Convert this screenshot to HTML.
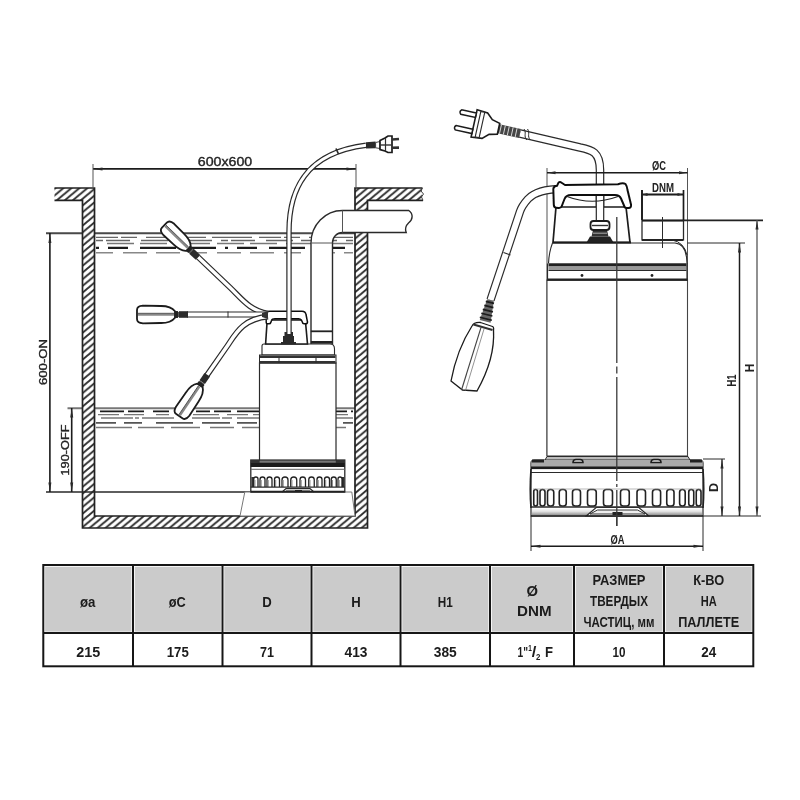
<!DOCTYPE html>
<html><head><meta charset="utf-8"><title>Pump dimensions</title>
<style>
html,body{margin:0;padding:0;background:#fff;}
body{width:800px;height:800px;overflow:hidden;font-family:"Liberation Sans",sans-serif;}
svg{display:block;font-family:"Liberation Sans",sans-serif;}
</style></head><body>
<svg width="800" height="800" viewBox="0 0 800 800">
<defs>
<pattern id="hatch" width="8" height="6.7" patternUnits="userSpaceOnUse">
<rect width="8" height="6.7" fill="#fff"/>
<path d="M-8,13.4 L16,-6.7 M-8,6.7 L8,-6.7 M0,13.4 L16,0" stroke="#333" stroke-width="2.0"/>
</pattern>
<linearGradient id="gbase" x1="0" x2="0" y1="0" y2="1"><stop offset="0" stop-color="#fff"/><stop offset="0.45" stop-color="#e4e4e4"/><stop offset="1" stop-color="#8a8a8a"/></linearGradient>
<filter id="soft" x="0" y="0" width="800" height="800" filterUnits="userSpaceOnUse"><feGaussianBlur stdDeviation="0.45"/></filter>
</defs>
<rect width="800" height="800" fill="#fff"/>
<g filter="url(#soft)">
<g id="left">
<line x1="46" y1="233.3" x2="355" y2="233.3" stroke="#484848" stroke-width="2.0" />
<line x1="96" y1="237.3" x2="353" y2="237.3" stroke="#666" stroke-width="1.3" stroke-dasharray="22 3 16 9 60 6 40 7" stroke-dashoffset="0"/>
<line x1="96" y1="240.5" x2="353" y2="240.5" stroke="#666" stroke-width="1.6" stroke-dasharray="7 3 24 11 27 8 36 9" stroke-dashoffset="0"/>
<line x1="107" y1="243.6" x2="353" y2="243.6" stroke="#777" stroke-width="1.5" stroke-dasharray="27 6 27 9 34 7" stroke-dashoffset="0"/>
<line x1="96" y1="247.9" x2="353" y2="247.9" stroke="#1a1a1a" stroke-width="2.2" stroke-dasharray="3 9 20 12 36 10 30 9" stroke-dashoffset="0"/>
<line x1="96" y1="252.7" x2="353" y2="252.7" stroke="#888" stroke-width="1.5" stroke-dasharray="17 10 24 9 24 10" stroke-dashoffset="0"/>
<line x1="67.5" y1="408.2" x2="355" y2="408.2" stroke="#777" stroke-width="2.0" />
<line x1="100" y1="411.4" x2="353" y2="411.4" stroke="#1a1a1a" stroke-width="1.6" stroke-dasharray="24 4 16 9 16 27 14 4 17 6" stroke-dashoffset="0"/>
<line x1="98" y1="414.6" x2="353" y2="414.6" stroke="#777" stroke-width="1.4" stroke-dasharray="21 5 20 12 13 24 26 8" stroke-dashoffset="0"/>
<line x1="101" y1="418" x2="353" y2="418" stroke="#777" stroke-width="1.5" stroke-dasharray="32 2 4 3 32 18 28 2 10 5" stroke-dashoffset="0"/>
<line x1="96" y1="422.8" x2="353" y2="422.8" stroke="#555" stroke-width="1.7" stroke-dasharray="20 8 18 14 37 9 28 7" stroke-dashoffset="0"/>
<line x1="96" y1="427.5" x2="353" y2="427.5" stroke="#777" stroke-width="1.7" stroke-dasharray="36 6 26 7 29 10 24 8" stroke-dashoffset="0"/>
<path d="M54.5,188 L94.5,188 L94.5,516 L355,516 L355,188 L422,188 L422,200 L367.5,200 L367.5,528 L82.5,528 L82.5,200 L54.5,200 Z" stroke="#222" stroke-width="0" fill="url(#hatch)" />
<path d="M54.5,188 L94.5,188 L94.5,516 L355,516 L355,188 L422.5,188" stroke="#222" stroke-width="1.7" fill="none" />
<path d="M423,200.3 L367.5,200.3 L367.5,528 L82.5,528 L82.5,200.3 L54.5,200.3" stroke="#222" stroke-width="1.7" fill="none" />
<path d="M422.5,188 L421,191 L423.5,194 L421.5,197 L423,200.3" stroke="#444" stroke-width="1.0" fill="none" />
<line x1="46" y1="492" x2="250" y2="492" stroke="#2a2a2a" stroke-width="1.5" />
<line x1="93" y1="168.8" x2="356" y2="168.8" stroke="#1a1a1a" stroke-width="1.8" />
<line x1="93" y1="164" x2="93" y2="188" stroke="#555" stroke-width="1.0" />
<line x1="356" y1="164" x2="356" y2="188" stroke="#555" stroke-width="1.0" />
<polygon points="93.50,169.00 102.50,167.50 102.50,170.50" fill="#2a2a2a"/>
<polygon points="355.50,169.00 346.50,170.50 346.50,167.50" fill="#2a2a2a"/>
<text x="225" y="165.5" font-size="12" text-anchor="middle" font-weight="normal" fill="#222" textLength="54.5" lengthAdjust="spacingAndGlyphs" stroke="#222" stroke-width="0.35">600x600</text>
<line x1="49.9" y1="233" x2="49.9" y2="492" stroke="#1a1a1a" stroke-width="1.6" />
<polygon points="49.90,234.00 51.40,243.00 48.40,243.00" fill="#2a2a2a"/>
<polygon points="49.90,491.50 48.40,482.50 51.40,482.50" fill="#2a2a2a"/>
<text x="47" y="362" font-size="11.7" text-anchor="middle" font-weight="normal" fill="#222" textLength="46" lengthAdjust="spacingAndGlyphs" transform="rotate(-90 47 362)" stroke="#222" stroke-width="0.35">600-ON</text>
<line x1="71.7" y1="408" x2="71.7" y2="492" stroke="#1a1a1a" stroke-width="1.6" />
<polygon points="71.70,408.50 73.20,417.50 70.20,417.50" fill="#2a2a2a"/>
<polygon points="71.70,491.50 70.20,482.50 73.20,482.50" fill="#2a2a2a"/>
<text x="68.8" y="450" font-size="11.7" text-anchor="middle" font-weight="normal" fill="#222" textLength="51" lengthAdjust="spacingAndGlyphs" transform="rotate(-90 68.8 450)" stroke="#222" stroke-width="0.35">190-OFF</text>
<path d="M311,344 L311,243 A31.5,32.5 0 0 1 342.5,210.5 L408.8,210.5 C413.5,214 413,219.5 408.5,223 C405.5,226 405,229.5 406.2,232.5 L342.5,232.5 A10,10.5 0 0 0 332.5,243 L332.5,344 Z" stroke="#2a2a2a" stroke-width="1.4" fill="#fff" />
<line x1="311" y1="243" x2="332.5" y2="243" stroke="#555" stroke-width="1.0" />
<line x1="342.5" y1="210.5" x2="342.5" y2="232.5" stroke="#555" stroke-width="1.0" />
<path d="M244.8,492 L351.8,492 L355,516 L240,516 Z" stroke="#777" stroke-width="1.0" fill="#fff" />
<rect x="250.8" y="460" width="94" height="32" stroke="#2a2a2a" stroke-width="1.3" fill="#fff" />
<rect x="259.5" y="459.3" width="78" height="3.5" stroke="#2a2a2a" stroke-width="0" fill="#777" />
<rect x="250.8" y="462.6" width="94" height="4.4" stroke="#2a2a2a" stroke-width="0" fill="#1a1a1a" />
<rect x="250.8" y="460" width="9" height="3" stroke="#2a2a2a" stroke-width="0" fill="#333" />
<rect x="335.8" y="460" width="9" height="3" stroke="#2a2a2a" stroke-width="0" fill="#333" />
<line x1="250.8" y1="469.3" x2="344.8" y2="469.3" stroke="#666" stroke-width="1.0" />
<rect x="251.4" y="477" width="4.6" height="10" stroke="#2a2a2a" stroke-width="0" fill="#333" />
<rect x="339.6" y="477" width="4.6" height="10" stroke="#2a2a2a" stroke-width="0" fill="#333" />
<path d="M253.75,487 L253.75,479.12 A2.12,2.12 0 0 1 258.00,479.12 L258.00,487" fill="#fff" stroke="#222" stroke-width="1.3"/>
<line x1="254.95" y1="480" x2="254.95" y2="487" stroke="#888" stroke-width="1.0" />
<path d="M260.00,487 L260.00,479.50 A2.50,2.50 0 0 1 265.00,479.50 L265.00,487" fill="#fff" stroke="#222" stroke-width="1.3"/>
<line x1="261.2" y1="480" x2="261.2" y2="487" stroke="#888" stroke-width="1.0" />
<path d="M267.00,487 L267.00,479.50 A2.50,2.50 0 0 1 272.00,479.50 L272.00,487" fill="#fff" stroke="#222" stroke-width="1.3"/>
<line x1="268.2" y1="480" x2="268.2" y2="487" stroke="#888" stroke-width="1.0" />
<path d="M274.50,487 L274.50,479.50 A2.50,2.50 0 0 1 279.50,479.50 L279.50,487" fill="#fff" stroke="#222" stroke-width="1.3"/>
<line x1="275.7" y1="480" x2="275.7" y2="487" stroke="#888" stroke-width="1.0" />
<path d="M282.00,487 L282.00,480.00 A3.00,3.00 0 0 1 288.00,480.00 L288.00,487" fill="#fff" stroke="#222" stroke-width="1.3"/>
<line x1="283.2" y1="480" x2="283.2" y2="487" stroke="#888" stroke-width="1.0" />
<path d="M290.75,487 L290.75,480.00 A3.00,3.00 0 0 1 296.75,480.00 L296.75,487" fill="#fff" stroke="#222" stroke-width="1.3"/>
<line x1="291.95" y1="480" x2="291.95" y2="487" stroke="#888" stroke-width="1.0" />
<path d="M300.00,487 L300.00,479.75 A2.75,2.75 0 0 1 305.50,479.75 L305.50,487" fill="#fff" stroke="#222" stroke-width="1.3"/>
<line x1="301.2" y1="480" x2="301.2" y2="487" stroke="#888" stroke-width="1.0" />
<path d="M308.75,487 L308.75,479.75 A2.75,2.75 0 0 1 314.25,479.75 L314.25,487" fill="#fff" stroke="#222" stroke-width="1.3"/>
<line x1="309.95" y1="480" x2="309.95" y2="487" stroke="#888" stroke-width="1.0" />
<path d="M317.00,487 L317.00,479.50 A2.50,2.50 0 0 1 322.00,479.50 L322.00,487" fill="#fff" stroke="#222" stroke-width="1.3"/>
<line x1="318.2" y1="480" x2="318.2" y2="487" stroke="#888" stroke-width="1.0" />
<path d="M324.50,487 L324.50,479.50 A2.50,2.50 0 0 1 329.50,479.50 L329.50,487" fill="#fff" stroke="#222" stroke-width="1.3"/>
<line x1="325.7" y1="480" x2="325.7" y2="487" stroke="#888" stroke-width="1.0" />
<path d="M331.25,487 L331.25,479.50 A2.50,2.50 0 0 1 336.25,479.50 L336.25,487" fill="#fff" stroke="#222" stroke-width="1.3"/>
<line x1="332.45" y1="480" x2="332.45" y2="487" stroke="#888" stroke-width="1.0" />
<path d="M338.00,487 L338.00,479.00 A2.00,2.00 0 0 1 342.00,479.00 L342.00,487" fill="#fff" stroke="#222" stroke-width="1.3"/>
<line x1="339.2" y1="480" x2="339.2" y2="487" stroke="#888" stroke-width="1.0" />
<line x1="250.8" y1="487.2" x2="344.8" y2="487.2" stroke="#2a2a2a" stroke-width="1.2" />
<path d="M282,492 L286,488.5 L310,488.5 L314,492" stroke="#2a2a2a" stroke-width="1.2" fill="none" />
<rect x="286" y="489.5" width="24" height="2" stroke="#2a2a2a" stroke-width="0" fill="#999" />
<rect x="295" y="490" width="7" height="2" stroke="#2a2a2a" stroke-width="0" fill="#222" />
<line x1="250.8" y1="491.6" x2="344.8" y2="491.6" stroke="#222" stroke-width="1.8" />
<rect x="259.5" y="363" width="76.5" height="97" stroke="#2a2a2a" stroke-width="1.2" fill="#fff" />
<path d="M262,355 L262,346 Q262,344 264,344 L330,344 Q334.5,344 334.5,349 L334.5,355 Z" stroke="#2a2a2a" stroke-width="1.1" fill="#fff" />
<rect x="259.5" y="355" width="76.5" height="8" stroke="#2a2a2a" stroke-width="1.0" fill="#fff" />
<rect x="260" y="355.5" width="75.5" height="2.5" stroke="#2a2a2a" stroke-width="0" fill="#333" />
<rect x="260" y="361" width="75.5" height="2" stroke="#2a2a2a" stroke-width="0" fill="#333" />
<line x1="279" y1="358" x2="279" y2="363" stroke="#2a2a2a" stroke-width="1" />
<line x1="316" y1="358" x2="316" y2="363" stroke="#2a2a2a" stroke-width="1" />
<line x1="310.8" y1="331.3" x2="332.5" y2="331.3" stroke="#222" stroke-width="1.8" />
<line x1="310.8" y1="342" x2="332.5" y2="342" stroke="#222" stroke-width="2.0" />
<path d="M265.6,344 L267,323 L269,320 L304,320 L305.6,323 L307.5,344 Z" stroke="#1a1a1a" stroke-width="1.6" fill="#fff" />
<path d="M266.2,322.5 L266.2,314 Q266.2,311.3 269.5,311.3 L302,311.3 Q305.5,311.3 306,314.5 L307.5,322 Q307.5,323.8 305.5,323.8 L304,323.8 Q302.7,323.8 302.3,322 L301.3,320 Q300.5,318.8 298.5,318.8 L275,318.8 Q272,318.8 271.5,320.5 L270.8,322.5 Q270.5,323.8 269,323.8 L267.5,323.8 Q266.2,323.8 266.2,322.5 Z" stroke="#111" stroke-width="1.5" fill="#fff" />
<rect x="284.5" y="332" width="8.5" height="4.5" stroke="#2a2a2a" stroke-width="0" fill="#2a2a2a" />
<rect x="283" y="336" width="11" height="7.8" stroke="#2a2a2a" stroke-width="0" fill="#2a2a2a" />
<rect x="281" y="342" width="15" height="2" stroke="#2a2a2a" stroke-width="0" fill="#2a2a2a" />
<path d="M289,334 L289,232 C289,190 305,153 366,145.3" stroke="#2a2a2a" stroke-width="5.4" fill="none" stroke-linecap="butt"/>
<path d="M289,334 L289,232 C289,190 305,153 366,145.3" stroke="#fff" stroke-width="3.0" fill="none" stroke-linecap="butt"/>
<line x1="336" y1="148.5" x2="338.5" y2="154" stroke="#2a2a2a" stroke-width="1.7" />
<path d="M366,142.3 L375.6,141.6 L375.6,148.2 L366,148.6 Z" stroke="#2a2a2a" stroke-width="0" fill="#2a2a2a" />
<path d="M375.6,142.5 L380,141.5 L380,148.5 L375.6,147.8 Z" stroke="#2a2a2a" stroke-width="0.9" fill="#fff" />
<path d="M380,140.5 L385,138 L388,136 L392,136 L392,152.5 L388,152.5 L385,151 L380,149.5 Z" stroke="#1a1a1a" stroke-width="1.7" fill="#fff" />
<line x1="385.5" y1="138" x2="385.5" y2="151" stroke="#333" stroke-width="1.2" />
<line x1="380" y1="145" x2="392" y2="145" stroke="#333" stroke-width="1.4" />
<line x1="392" y1="139.5" x2="399" y2="139" stroke="#333" stroke-width="2.6" />
<line x1="392" y1="147.8" x2="399" y2="147.6" stroke="#333" stroke-width="2.6" />
<path d="M268,313.5 C250,311 241,298 230,287.5 L198,257" stroke="#2a2a2a" stroke-width="5.8" fill="none" stroke-linecap="butt"/>
<path d="M268,313.5 C250,311 241,298 230,287.5 L198,257" stroke="#fff" stroke-width="3.4" fill="none" stroke-linecap="butt"/>
<path d="M268,314.5 L187,314.5" stroke="#2a2a2a" stroke-width="6.2" fill="none" stroke-linecap="butt"/>
<path d="M268,314.5 L187,314.5" stroke="#fff" stroke-width="3.8" fill="none" stroke-linecap="butt"/>
<path d="M268,316.5 C243,319 236,333 228,345 L205,378" stroke="#2a2a2a" stroke-width="5.8" fill="none" stroke-linecap="butt"/>
<path d="M268,316.5 C243,319 236,333 228,345 L205,378" stroke="#fff" stroke-width="3.4" fill="none" stroke-linecap="butt"/>
<line x1="228" y1="311.5" x2="228" y2="317.5" stroke="#2a2a2a" stroke-width="1.0" />
<g transform="translate(188.5 248.5) rotate(-137)">
<rect x="-13" y="-3.3" width="9" height="6.6" stroke="#2a2a2a" stroke-width="0" fill="#2a2a2a" />
<path d="M-4,-2.6 L0,-3.4 L0,3.4 L-4,2.6 Z" stroke="#2a2a2a" stroke-width="0" fill="#555" />
</g>
<g transform="translate(188.5 248.5) rotate(-136)">
<path d="M0,-3.2 C4,-7.5 10,-7.5 14,-7.5 L27.5,-7.8 Q33.5,-7.5 33.5,-3.5 L33.5,3.5 Q33.5,7.5 27.5,7.8 L14,7.5 C10,7.5 4,7.5 0,3.2 Z" stroke="#1a1a1a" stroke-width="1.8" fill="#fff" />
<line x1="1" y1="0" x2="32.5" y2="0" stroke="#888" stroke-width="2.4" />
<line x1="1" y1="1.2" x2="32.5" y2="1.2" stroke="#444" stroke-width="0.8" />
<rect x="-3" y="-3.4" width="3.2" height="6.8" stroke="#2a2a2a" stroke-width="0" fill="#222" />
</g>
<g transform="translate(175 314.5) rotate(180)">
<rect x="-13" y="-3.3" width="9" height="6.6" stroke="#2a2a2a" stroke-width="0" fill="#2a2a2a" />
<path d="M-4,-2.6 L0,-3.4 L0,3.4 L-4,2.6 Z" stroke="#2a2a2a" stroke-width="0" fill="#555" />
</g>
<g transform="translate(175 314.5) rotate(180)">
<path d="M0,-3.2 C4,-8.5 10,-8.5 14,-8.5 L32,-8.8 Q38,-8.5 38,-4.5 L38,4.5 Q38,8.5 32,8.8 L14,8.5 C10,8.5 4,8.5 0,3.2 Z" stroke="#1a1a1a" stroke-width="1.8" fill="#fff" />
<line x1="1" y1="0" x2="37" y2="0" stroke="#888" stroke-width="2.4" />
<line x1="1" y1="1.2" x2="37" y2="1.2" stroke="#444" stroke-width="0.8" />
<rect x="-3" y="-3.4" width="3.2" height="6.8" stroke="#2a2a2a" stroke-width="0" fill="#222" />
</g>
<g transform="translate(200 385.5) rotate(124)">
<rect x="-13" y="-3.3" width="9" height="6.6" stroke="#2a2a2a" stroke-width="0" fill="#2a2a2a" />
<path d="M-4,-2.6 L0,-3.4 L0,3.4 L-4,2.6 Z" stroke="#2a2a2a" stroke-width="0" fill="#555" />
</g>
<g transform="translate(200 385.5) rotate(124)">
<path d="M0,-3.2 C4,-7.75 10,-7.75 14,-7.75 L31,-8.05 Q37,-7.75 37,-3.75 L37,3.75 Q37,7.75 31,8.05 L14,7.75 C10,7.75 4,7.75 0,3.2 Z" stroke="#1a1a1a" stroke-width="1.8" fill="#fff" />
<line x1="1" y1="0" x2="36" y2="0" stroke="#888" stroke-width="2.4" />
<line x1="1" y1="1.2" x2="36" y2="1.2" stroke="#444" stroke-width="0.8" />
<rect x="-3" y="-3.4" width="3.2" height="6.8" stroke="#2a2a2a" stroke-width="0" fill="#222" />
</g>
<path d="M262,313 L268,311 L268,319 L262,317 Z" stroke="#2a2a2a" stroke-width="0" fill="#333" />
</g>
<g id="right">
<path d="M600,222 L600,170 C600,152 592,150 580,147.5 L520,133.5" stroke="#2a2a2a" stroke-width="8.6" fill="none" stroke-linecap="butt"/>
<path d="M600,222 L600,170 C600,152 592,150 580,147.5 L520,133.5" stroke="#fff" stroke-width="6.2" fill="none" stroke-linecap="butt"/>
<path d="M524,129 C527,133 523,136 527,140" stroke="#2a2a2a" stroke-width="1.0" fill="none" />
<path d="M527.5,129 C530.5,133 526.5,136 530.5,140" stroke="#2a2a2a" stroke-width="1.0" fill="none" />
<g transform="translate(520 133.5) rotate(12.5)">
<rect x="-22" y="-4.6" width="22" height="9.2" stroke="#2a2a2a" stroke-width="0" fill="#444" />
<line x1="-20" y1="-4.6" x2="-20" y2="4.6" stroke="#ddd" stroke-width="0.9" />
<line x1="-16" y1="-4.6" x2="-16" y2="4.6" stroke="#ddd" stroke-width="0.9" />
<line x1="-12" y1="-4.6" x2="-12" y2="4.6" stroke="#ddd" stroke-width="0.9" />
<line x1="-8" y1="-4.6" x2="-8" y2="4.6" stroke="#ddd" stroke-width="0.9" />
<line x1="-4" y1="-4.6" x2="-4" y2="4.6" stroke="#ddd" stroke-width="0.9" />
<path d="M-22,-5.5 L-30,-7.5 L-36,-13 L-47,-14 L-47,14 L-36,13 L-30,7.5 L-22,5.5 Z" stroke="#1a1a1a" stroke-width="1.6" fill="#fff" />
<rect x="-43" y="-13" width="4" height="26" stroke="#2a2a2a" stroke-width="1.1" fill="#fff" />
<path d="M-47,-10.5 L-62,-10.5 Q-64.5,-8.2 -62,-6 L-47,-6 Z" stroke="#1a1a1a" stroke-width="1.5" fill="#fff" />
<path d="M-47,6 L-64,6 Q-66.5,8.2 -64,10.5 L-47,10.5 Z" stroke="#1a1a1a" stroke-width="1.5" fill="#fff" />
</g>
<line x1="547" y1="168" x2="547" y2="456" stroke="#555" stroke-width="1.0" />
<line x1="687.5" y1="168" x2="687.5" y2="456" stroke="#555" stroke-width="1.0" />
<line x1="547" y1="172.8" x2="687.5" y2="172.8" stroke="#1a1a1a" stroke-width="1.5" />
<polygon points="547.50,172.80 555.50,171.30 555.50,174.30" fill="#2a2a2a"/>
<polygon points="687.00,172.80 679.00,174.30 679.00,171.30" fill="#2a2a2a"/>
<text x="659" y="169.5" font-size="13" text-anchor="middle" font-weight="bold" fill="#222" textLength="14" lengthAdjust="spacingAndGlyphs" >ØC</text>
<line x1="642" y1="190" x2="642" y2="220" stroke="#1a1a1a" stroke-width="1.9" />
<line x1="683.5" y1="190" x2="683.5" y2="220" stroke="#1a1a1a" stroke-width="1.7" />
<line x1="642" y1="194.5" x2="683.5" y2="194.5" stroke="#1a1a1a" stroke-width="1.9" />
<polygon points="642.50,194.50 647.50,193.00 647.50,196.00" fill="#2a2a2a"/>
<polygon points="682.50,194.50 677.50,196.00 677.50,193.00" fill="#2a2a2a"/>
<text x="663" y="191.5" font-size="12.5" text-anchor="middle" font-weight="bold" fill="#222" textLength="22" lengthAdjust="spacingAndGlyphs" >DNM</text>
<path d="M562,189 C548,189 535,191.5 528,199 C524,203.5 521.5,207 520,211.5 L490.5,300" stroke="#2a2a2a" stroke-width="8.4" fill="none" stroke-linecap="butt"/>
<path d="M562,189 C548,189 535,191.5 528,199 C524,203.5 521.5,207 520,211.5 L490.5,300" stroke="#fff" stroke-width="6.0" fill="none" stroke-linecap="butt"/>
<line x1="503.5" y1="252.5" x2="510.5" y2="255" stroke="#2a2a2a" stroke-width="1.1" />
<g transform="translate(490.5 300) rotate(104)">
<path d="M0,-3.4 L22,-5.6 L22,5.6 L0,3.4 Z" stroke="#2a2a2a" stroke-width="0" fill="#666" />
<line x1="2.5" y1="-4.2" x2="2.5" y2="4.2" stroke="#1a1a1a" stroke-width="1.7" />
<line x1="6.7" y1="-4.699999999999999" x2="6.7" y2="4.699999999999999" stroke="#1a1a1a" stroke-width="1.7" />
<line x1="10.9" y1="-5.199999999999999" x2="10.9" y2="5.199999999999999" stroke="#1a1a1a" stroke-width="1.7" />
<line x1="15.100000000000001" y1="-5.699999999999999" x2="15.100000000000001" y2="5.699999999999999" stroke="#1a1a1a" stroke-width="1.7" />
<line x1="19.3" y1="-6.199999999999999" x2="19.3" y2="6.199999999999999" stroke="#1a1a1a" stroke-width="1.7" />
</g>
<path d="M480.5,322.5 L492.5,326.5 Q494,327 493.5,330 C495,355 486,375 477,391 L462.5,390 L451,381 C455,360 463,340 472,326 Q474,322 480.5,322.5 Z" stroke="#1a1a1a" stroke-width="1.3" fill="#fff" />
<path d="M473.5,324.5 L492.5,330" stroke="#333" stroke-width="2.2" fill="none" />
<line x1="481" y1="327.5" x2="461.5" y2="390" stroke="#444" stroke-width="1.1" />
<line x1="484" y1="329" x2="465.5" y2="390.5" stroke="#777" stroke-width="0.8" />
<rect x="547" y="280" width="140.5" height="176" stroke="#444" stroke-width="1.1" fill="#fff" />
<path d="M556,207 L553,242.5 L630,242.5 L626,207 Z" stroke="#1a1a1a" stroke-width="1.7" fill="#fff" />
<path d="M600,221 L600,196" stroke="#2a2a2a" stroke-width="8.6" fill="none" stroke-linecap="butt"/>
<path d="M600,221 L600,196" stroke="#fff" stroke-width="6.2" fill="none" stroke-linecap="butt"/>
<path d="M552.5,243 L675,243 Q685,244 686.5,257 L687,263.5 L548.5,263.5 Q549,252 552.5,243 Z" stroke="#2a2a2a" stroke-width="1.1" fill="#fff" />
<line x1="553" y1="242.6" x2="631" y2="242.6" stroke="#1a1a1a" stroke-width="2.0" />
<rect x="642" y="220.5" width="41.5" height="19.5" stroke="#2a2a2a" stroke-width="1.3" fill="#fff" />
<line x1="642" y1="220.5" x2="683.5" y2="220.5" stroke="#1a1a1a" stroke-width="2.0" />
<line x1="642" y1="240" x2="683" y2="240" stroke="#222" stroke-width="2.0" />
<path d="M672,240 Q684,242 687,255" stroke="#2a2a2a" stroke-width="1.0" fill="none" />
<rect x="548" y="263.5" width="139" height="17" stroke="#2a2a2a" stroke-width="0" fill="#fff" />
<rect x="548.5" y="263.5" width="138" height="3" stroke="#2a2a2a" stroke-width="0" fill="#222" />
<rect x="548.5" y="266.5" width="138" height="3.5" stroke="#2a2a2a" stroke-width="0" fill="#999" />
<line x1="548.5" y1="270.5" x2="686.5" y2="270.5" stroke="#2a2a2a" stroke-width="1.0" />
<rect x="547" y="278.5" width="140.5" height="2.4" stroke="#2a2a2a" stroke-width="0" fill="#222" />
<line x1="547.5" y1="263.5" x2="547.5" y2="281" stroke="#2a2a2a" stroke-width="1.2" />
<line x1="687" y1="263.5" x2="687" y2="281" stroke="#2a2a2a" stroke-width="1.2" />
<circle cx="582" cy="275.5" r="1.4" fill="#222"/><circle cx="652" cy="275.5" r="1.4" fill="#222"/>
<line x1="662.5" y1="217" x2="662.5" y2="248" stroke="#2a2a2a" stroke-width="1.0" />
<line x1="616.8" y1="217" x2="616.8" y2="526" stroke="#3a3a3a" stroke-width="1.3" stroke-dasharray="146 3.5 7 3.5 400"/>
<path d="M586.5,242.5 L590,236.5 L610,236.5 L613.5,242.5 Z" stroke="#2a2a2a" stroke-width="0" fill="#222" />
<path d="M591.5,236.5 L593,230 L607,230 L608.5,236.5 Z" stroke="#2a2a2a" stroke-width="0" fill="#333" />
<rect x="590.5" y="221" width="19" height="9" rx="3" fill="#fff" stroke="#1a1a1a" stroke-width="1.8"/>
<line x1="592" y1="225.5" x2="608" y2="225.5" stroke="#333" stroke-width="1.4" />
<line x1="593" y1="233.2" x2="607" y2="233.2" stroke="#aaa" stroke-width="1.0" />
<path d="M553.3,189 Q553.5,186 557,185.8 L558.5,182.6 Q560,181 562,183 L565,185 L618,184.3 Q623,182.5 625.5,184 Q627,186 627.5,190 L631,204.5 Q631.5,208 628.5,208 L626.5,208 Q624.5,208 624,205.5 L621,198.5 Q619.5,195 615,195 L571,195 Q566,195 564.5,199 L561.8,206 Q561,208.3 558.5,208 L556,207.7 Q553.8,207.4 553.8,204.5 Z" stroke="#111" stroke-width="2.0" fill="#fff" stroke-linejoin="round"/>
<path d="M567,196.5 Q592,206 618,196.5" stroke="#222" stroke-width="1.2" fill="none" />
<path d="M531,463 Q531,460 534,460 L700,460 Q703,460 703,463 L703,516 L531,516 Z" stroke="#2a2a2a" stroke-width="1.2" fill="#fff" />
<path d="M545,460 L547,456.5 L688,456.5 L690,460 Z" stroke="#2a2a2a" stroke-width="1.0" fill="#bbb" />
<rect x="531.5" y="460" width="171" height="7" stroke="#2a2a2a" stroke-width="0" fill="#aaa" />
<rect x="531" y="466.5" width="172" height="2.6" stroke="#2a2a2a" stroke-width="0" fill="#1a1a1a" />
<line x1="531" y1="472.5" x2="703" y2="472.5" stroke="#2a2a2a" stroke-width="1.1" />
<path d="M531,469 Q529.5,490 531,508" stroke="#222" stroke-width="1.6" fill="none" />
<path d="M703,469 Q704.5,490 703,508" stroke="#222" stroke-width="1.6" fill="none" />
<path d="M573,462.5 Q573,459.5 576,459.5 L580,459.5 Q583,459.5 583,462.5 Z" fill="#ddd" stroke="#1a1a1a" stroke-width="1.5"/>
<path d="M651,462.5 Q651,459.5 654,459.5 L658,459.5 Q661,459.5 661,462.5 Z" fill="#ddd" stroke="#1a1a1a" stroke-width="1.5"/>
<rect x="532" y="459.5" width="12" height="3" stroke="#2a2a2a" stroke-width="0" fill="#222" />
<rect x="690" y="459.5" width="12" height="3" stroke="#2a2a2a" stroke-width="0" fill="#222" />
<rect x="533.75" y="489.5" width="3.75" height="16.5" rx="1.88" fill="#fff" stroke="#222" stroke-width="1.6"/>
<rect x="540.00" y="489.5" width="5.00" height="16.5" rx="2.50" fill="#fff" stroke="#222" stroke-width="1.6"/>
<rect x="547.50" y="489.5" width="6.25" height="16.5" rx="2.80" fill="#fff" stroke="#222" stroke-width="1.6"/>
<rect x="559.25" y="489.5" width="7.00" height="16.5" rx="2.80" fill="#fff" stroke="#222" stroke-width="1.6"/>
<rect x="572.50" y="489.5" width="8.00" height="16.5" rx="2.80" fill="#fff" stroke="#222" stroke-width="1.6"/>
<rect x="587.50" y="489.5" width="8.75" height="16.5" rx="2.80" fill="#fff" stroke="#222" stroke-width="1.6"/>
<rect x="603.50" y="489.5" width="9.00" height="16.5" rx="2.80" fill="#fff" stroke="#222" stroke-width="1.6"/>
<rect x="620.50" y="489.5" width="8.75" height="16.5" rx="2.80" fill="#fff" stroke="#222" stroke-width="1.6"/>
<rect x="637.00" y="489.5" width="8.50" height="16.5" rx="2.80" fill="#fff" stroke="#222" stroke-width="1.6"/>
<rect x="652.50" y="489.5" width="8.10" height="16.5" rx="2.80" fill="#fff" stroke="#222" stroke-width="1.6"/>
<rect x="666.75" y="489.5" width="7.25" height="16.5" rx="2.80" fill="#fff" stroke="#222" stroke-width="1.6"/>
<rect x="679.60" y="489.5" width="5.60" height="16.5" rx="2.80" fill="#fff" stroke="#222" stroke-width="1.6"/>
<rect x="688.75" y="489.5" width="5.00" height="16.5" rx="2.50" fill="#fff" stroke="#222" stroke-width="1.6"/>
<rect x="696.25" y="489.5" width="4.75" height="16.5" rx="2.38" fill="#fff" stroke="#222" stroke-width="1.6"/>
<rect x="532" y="508" width="170" height="7.5" fill="url(#gbase)"/>
<line x1="531" y1="507" x2="703" y2="507" stroke="#2a2a2a" stroke-width="1.3" />
<line x1="533" y1="489" x2="701" y2="489" stroke="#999" stroke-width="0.7" />
<path d="M586.2,516 L596.2,507.5 L638.8,507.5 L648.8,516 Z" stroke="#2a2a2a" stroke-width="1.2" fill="#fff" />
<path d="M590,514 L597.5,510 L637.5,510 L645,514 Z" stroke="#333" stroke-width="1.0" fill="#eee" />
<rect x="612.5" y="512" width="10" height="3.2" stroke="#2a2a2a" stroke-width="0" fill="#222" />
<line x1="531" y1="516" x2="703" y2="516" stroke="#222" stroke-width="1.6" />
<line x1="616.8" y1="457" x2="616.8" y2="526" stroke="#3a3a3a" stroke-width="1.3" stroke-dasharray="24 3 3 3 40"/>
<line x1="531" y1="516" x2="531" y2="551" stroke="#2a2a2a" stroke-width="1.0" />
<line x1="703" y1="516" x2="703" y2="551" stroke="#2a2a2a" stroke-width="1.0" />
<line x1="531" y1="546.3" x2="703" y2="546.3" stroke="#1a1a1a" stroke-width="1.5" />
<polygon points="531.50,546.30 540.50,544.80 540.50,547.80" fill="#2a2a2a"/>
<polygon points="702.50,546.30 693.50,547.80 693.50,544.80" fill="#2a2a2a"/>
<text x="617.5" y="543.8" font-size="12.5" text-anchor="middle" font-weight="bold" fill="#222" textLength="14" lengthAdjust="spacingAndGlyphs" >ØA</text>
<line x1="703" y1="459" x2="725" y2="459" stroke="#2a2a2a" stroke-width="1.0" />
<line x1="703" y1="516" x2="761" y2="516" stroke="#2a2a2a" stroke-width="1.2" />
<line x1="722" y1="459" x2="722" y2="516" stroke="#333" stroke-width="1.4" />
<polygon points="722.00,459.50 723.50,468.50 720.50,468.50" fill="#2a2a2a"/>
<polygon points="722.00,515.50 720.50,506.50 723.50,506.50" fill="#2a2a2a"/>
<text x="718" y="487.5" font-size="12.5" text-anchor="middle" font-weight="bold" fill="#222" textLength="9" lengthAdjust="spacingAndGlyphs" transform="rotate(-90 718 487.5)" >D</text>
<line x1="687.5" y1="243" x2="745" y2="243" stroke="#2a2a2a" stroke-width="1.0" />
<line x1="739.5" y1="243" x2="739.5" y2="516" stroke="#1a1a1a" stroke-width="1.5" />
<polygon points="739.50,243.50 741.00,252.50 738.00,252.50" fill="#2a2a2a"/>
<polygon points="739.50,515.50 738.00,506.50 741.00,506.50" fill="#2a2a2a"/>
<text x="735.5" y="380.5" font-size="12" text-anchor="middle" font-weight="bold" fill="#222" textLength="12" lengthAdjust="spacingAndGlyphs" transform="rotate(-90 735.5 380.5)" >H1</text>
<line x1="683.6" y1="220.4" x2="763" y2="220.4" stroke="#222" stroke-width="1.9" />
<line x1="757" y1="220" x2="757" y2="516" stroke="#555" stroke-width="1.3" />
<polygon points="757.00,220.50 758.50,229.50 755.50,229.50" fill="#2a2a2a"/>
<polygon points="757.00,515.50 755.50,506.50 758.50,506.50" fill="#2a2a2a"/>
<text x="753.5" y="368" font-size="13" text-anchor="middle" font-weight="bold" fill="#222" textLength="8.5" lengthAdjust="spacingAndGlyphs" transform="rotate(-90 753.5 368)" >H</text>
</g>
<g id="table">
<rect x="43" y="565" width="710" height="101.29999999999995" stroke="#2a2a2a" stroke-width="0" fill="#fff" />
<rect x="45.099999999999994" y="566.8" width="86.3" height="64.8" stroke="#2a2a2a" stroke-width="0" fill="#cbcbcb" />
<rect x="134.8" y="566.8" width="86.1" height="64.8" stroke="#2a2a2a" stroke-width="0" fill="#cbcbcb" />
<rect x="224.3" y="566.8" width="85.6" height="64.8" stroke="#2a2a2a" stroke-width="0" fill="#cbcbcb" />
<rect x="313.3" y="566.8" width="85.6" height="64.8" stroke="#2a2a2a" stroke-width="0" fill="#cbcbcb" />
<rect x="402.3" y="566.8" width="86.1" height="64.8" stroke="#2a2a2a" stroke-width="0" fill="#cbcbcb" />
<rect x="491.8" y="566.8" width="80.6" height="64.8" stroke="#2a2a2a" stroke-width="0" fill="#cbcbcb" />
<rect x="575.8" y="566.8" width="86.6" height="64.8" stroke="#2a2a2a" stroke-width="0" fill="#cbcbcb" />
<rect x="665.8" y="566.8" width="85.89999999999995" height="64.8" stroke="#2a2a2a" stroke-width="0" fill="#cbcbcb" />
<rect x="43.3" y="565" width="710.0" height="101.29999999999995" stroke="#161616" stroke-width="2.0" fill="none" />
<line x1="43.3" y1="633" x2="753.3" y2="633" stroke="#161616" stroke-width="1.8" />
<line x1="133" y1="565" x2="133" y2="666.3" stroke="#161616" stroke-width="2.0" />
<line x1="222.5" y1="565" x2="222.5" y2="666.3" stroke="#161616" stroke-width="2.0" />
<line x1="311.5" y1="565" x2="311.5" y2="666.3" stroke="#161616" stroke-width="2.0" />
<line x1="400.5" y1="565" x2="400.5" y2="666.3" stroke="#161616" stroke-width="2.0" />
<line x1="490" y1="565" x2="490" y2="666.3" stroke="#161616" stroke-width="2.0" />
<line x1="574" y1="565" x2="574" y2="666.3" stroke="#161616" stroke-width="2.0" />
<line x1="664" y1="565" x2="664" y2="666.3" stroke="#161616" stroke-width="2.0" />
<text x="87.65" y="606.5" font-size="15" text-anchor="middle" font-weight="bold" fill="#1c1c1c" textLength="15.5" lengthAdjust="spacingAndGlyphs" >øa</text>
<text x="177.25" y="606.5" font-size="15" text-anchor="middle" font-weight="bold" fill="#1c1c1c" textLength="17" lengthAdjust="spacingAndGlyphs" >øC</text>
<text x="267.0" y="606.5" font-size="15" text-anchor="middle" font-weight="bold" fill="#1c1c1c" textLength="9.5" lengthAdjust="spacingAndGlyphs" >D</text>
<text x="356.0" y="606.5" font-size="15" text-anchor="middle" font-weight="bold" fill="#1c1c1c" textLength="9.5" lengthAdjust="spacingAndGlyphs" >H</text>
<text x="445.25" y="606.5" font-size="15" text-anchor="middle" font-weight="bold" fill="#1c1c1c" textLength="15" lengthAdjust="spacingAndGlyphs" >H1</text>
<text x="532.3" y="596" font-size="15" text-anchor="middle" font-weight="bold" fill="#1c1c1c" textLength="11.5" lengthAdjust="spacingAndGlyphs" >Ø</text>
<text x="534.3" y="615.5" font-size="15" text-anchor="middle" font-weight="bold" fill="#1c1c1c" textLength="34.5" lengthAdjust="spacingAndGlyphs" >DNM</text>
<text x="619.0" y="585" font-size="15" text-anchor="middle" font-weight="bold" fill="#1c1c1c" textLength="53" lengthAdjust="spacingAndGlyphs" >РАЗМЕР</text>
<text x="619.0" y="606" font-size="15" text-anchor="middle" font-weight="bold" fill="#1c1c1c" textLength="58" lengthAdjust="spacingAndGlyphs" >ТВЕРДЫХ</text>
<text x="619.0" y="627" font-size="15" text-anchor="middle" font-weight="bold" fill="#1c1c1c" textLength="71" lengthAdjust="spacingAndGlyphs" >ЧАСТИЦ, мм</text>
<text x="708.65" y="585" font-size="15" text-anchor="middle" font-weight="bold" fill="#1c1c1c" textLength="31" lengthAdjust="spacingAndGlyphs" >К-ВО</text>
<text x="708.65" y="606" font-size="15" text-anchor="middle" font-weight="bold" fill="#1c1c1c" textLength="16" lengthAdjust="spacingAndGlyphs" >НА</text>
<text x="708.65" y="627" font-size="15" text-anchor="middle" font-weight="bold" fill="#1c1c1c" textLength="61" lengthAdjust="spacingAndGlyphs" >ПАЛЛЕТЕ</text>
<text x="88.15" y="656.8" font-size="15.5" text-anchor="middle" font-weight="bold" fill="#1c1c1c" textLength="24" lengthAdjust="spacingAndGlyphs" >215</text>
<text x="177.75" y="656.8" font-size="15.5" text-anchor="middle" font-weight="bold" fill="#1c1c1c" textLength="22" lengthAdjust="spacingAndGlyphs" >175</text>
<text x="267.0" y="656.8" font-size="15.5" text-anchor="middle" font-weight="bold" fill="#1c1c1c" textLength="14" lengthAdjust="spacingAndGlyphs" >71</text>
<text x="356.0" y="656.8" font-size="15.5" text-anchor="middle" font-weight="bold" fill="#1c1c1c" textLength="23" lengthAdjust="spacingAndGlyphs" >413</text>
<text x="445.25" y="656.8" font-size="15.5" text-anchor="middle" font-weight="bold" fill="#1c1c1c" textLength="23" lengthAdjust="spacingAndGlyphs" >385</text>
<text x="619.0" y="656.8" font-size="15.5" text-anchor="middle" font-weight="bold" fill="#1c1c1c" textLength="13" lengthAdjust="spacingAndGlyphs" >10</text>
<text x="708.65" y="656.8" font-size="15.5" text-anchor="middle" font-weight="bold" fill="#1c1c1c" textLength="15" lengthAdjust="spacingAndGlyphs" >24</text>
<text x="517.5" y="656.8" font-size="15.5" fill="#1c1c1c" font-weight="bold" textLength="10.5" lengthAdjust="spacingAndGlyphs">1"</text>
<text x="528.3" y="651" font-size="9" fill="#1c1c1c" font-weight="bold" textLength="3.6" lengthAdjust="spacingAndGlyphs">1</text>
<text x="531.7" y="656.8" font-size="15.5" fill="#1c1c1c" font-weight="bold" textLength="4.6" lengthAdjust="spacingAndGlyphs">/</text>
<text x="536.1" y="660" font-size="9" fill="#1c1c1c" font-weight="bold" textLength="4.4" lengthAdjust="spacingAndGlyphs">2</text>
<text x="545.0" y="656.8" font-size="15.5" fill="#1c1c1c" font-weight="bold" textLength="8" lengthAdjust="spacingAndGlyphs">F</text>
</g>
</g>
</svg>
</body></html>
